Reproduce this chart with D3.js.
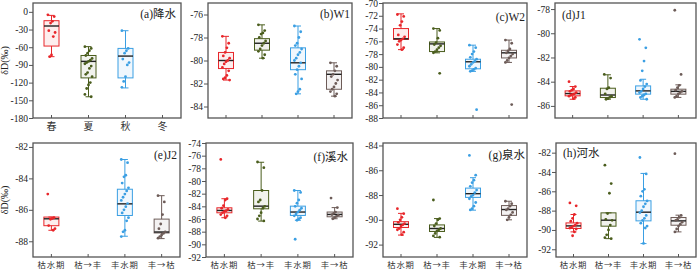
<!DOCTYPE html>
<html><head><meta charset="utf-8">
<script src="https://cdn.jsdelivr.net/npm/d3@7"></script>
<style>body{margin:0;background:#fff}svg{display:block}</style>
</head><body>
<svg id="c" width="700" height="272"></svg>
<script>
// ---------- data ----------
const seasons = ["春", "夏", "秋", "冬"];
const periods = ["枯水期", "枯→丰", "丰水期", "丰→枯"];
const colors = ["#e8262a", "#4a5d1d", "#3b9fe3", "#6d5c58"];
// box stats: [lower whisker, q1, median, q3, upper whisker] per group (null = no data)
const precipBox = [[-76, -58, -24, -15, -6], [-144, -112, -84, -74, -59], [-129, -112, -75, -62, -32], null];
const precipPts = [[-5, -8, -16, -19, -32, -35, -42, -73, -76],
  [-59, -62, -66, -70, -74, -79, -82, -84, -86, -88, -92, -96, -103, -106, -110, -120, -124, -130, -140, -144],
  [-32, -62, -66, -70, -80, -86, -90, -110, -118, -128], []];
const w1Box = [[-81.7, -80.7, -80.0, -79.3, -77.9], [-79.8, -79.1, -78.5, -78.1, -76.9], [-82.9, -80.8, -80.2, -78.9, -77.0], [-83.1, -82.5, -81.2, -80.9, -80.2]];
const w1Pts = [[-77.9, -78.5, -78.9, -79.3, -79.6, -79.8, -80.0, -80.1, -80.3, -80.6, -80.9, -81.3, -81.5, -81.6, -81.7],
  [-76.9, -77.4, -77.6, -77.7, -78.0, -78.3, -78.5, -78.7, -79.0, -79.2, -79.5, -79.8],
  [-77.0, -77.5, -78.0, -78.5, -78.7, -79.0, -79.3, -79.5, -79.8, -80.0, -80.2, -80.5, -80.8, -81.2, -81.6, -82.5, -82.7, -82.9],
  [-80.2, -80.5, -80.9, -81.2, -81.4, -81.7, -82.0, -82.3, -82.5, -82.7, -82.9, -83.1]];
const w2Box = [[-77.3, -75.7, -75.6, -74.0, -71.7], [-77.8, -77.6, -76.4, -76.1, -74.0], [-80.7, -80.3, -79.2, -78.8, -76.6], [-79.3, -78.6, -77.8, -77.4, -75.8]];
const w2Pts = [[-71.8, -72.1, -72.9, -73.5, -75.0, -75.3, -75.6, -75.8, -76.0, -76.5, -77.0, -77.3],
  [-74.0, -74.3, -75.5, -76.2, -76.5, -76.7, -77.0, -77.3, -77.6, -77.8, -81.0],
  [-76.6, -77.0, -77.6, -78.0, -78.5, -78.8, -79.1, -79.3, -79.6, -79.9, -80.2, -80.4, -80.6, -80.7, -86.7],
  [-75.8, -76.3, -77.2, -77.5, -77.8, -78.0, -78.3, -78.6, -79.0, -79.3, -85.9]];
const j1Box = [[-85.45, -85.17, -84.98, -84.76, -84.4], [-85.45, -85.31, -85.1, -84.54, -83.43], [-85.45, -85.03, -84.76, -84.35, -83.8], [-85.3, -85.03, -84.8, -84.62, -84.26]];
const j1Pts = [[-84.0, -84.4, -84.6, -84.7, -84.8, -84.9, -85.0, -85.05, -85.1, -85.2, -85.3, -85.4],
  [-83.4, -83.7, -84.5, -84.6, -85.0, -85.2, -85.3, -85.4, -85.45],
  [-80.5, -81.2, -82.3, -83.1, -83.9, -84.2, -84.4, -84.6, -84.8, -84.9, -85.0, -85.1, -85.2, -85.3, -85.45],
  [-78.1, -83.4, -84.3, -84.5, -84.7, -84.8, -84.9, -85.0, -85.2, -85.3]];
const j2Box = [[-87.3, -87.01, -86.57, -86.46, -86.46], null, [-87.68, -86.36, -85.62, -84.69, -82.8], [-87.83, -87.47, -87.41, -86.59, -85.1]];
const j2Pts = [[-85.0, -86.5, -86.55, -86.6, -87.0, -87.2, -87.3], [],
  [-82.8, -83.0, -83.8, -83.9, -84.3, -84.6, -84.8, -85.0, -85.2, -85.4, -85.6, -85.8, -86.0, -86.2, -86.5, -86.7, -87.3, -87.4, -87.7],
  [-85.1, -85.5, -86.3, -86.9, -87.2, -87.4, -87.5, -87.6, -87.7, -87.8]];
const streamBox = [[-85.8, -85.02, -84.65, -84.23, -82.8], [-86.33, -84.39, -83.97, -81.5, -77.04], [-86.2, -85.44, -84.9, -83.97, -81.5], [-85.96, -85.65, -85.28, -84.9, -84.2]];
const streamPts = [[-76.6, -82.8, -83.0, -83.9, -84.3, -84.5, -84.7, -84.8, -85.0, -85.3, -85.5, -85.8],
  [-77.0, -77.9, -81.5, -83.0, -83.3, -84.0, -84.3, -85.0, -85.5, -86.0, -86.3],
  [-81.5, -81.8, -83.0, -83.5, -84.0, -84.3, -84.6, -84.9, -85.2, -85.5, -85.8, -86.0, -86.2, -89.2],
  [-82.7, -84.2, -84.9, -85.1, -85.3, -85.4, -85.6, -85.8, -85.96]];
const springBox = [[-91.23, -90.62, -90.36, -90.15, -89.48], [-91.42, -90.94, -90.7, -90.41, -89.9], [-89.22, -88.19, -87.89, -87.44, -86.6], [-90.0, -89.64, -89.17, -88.85, -88.5]];
const springPts = [[-89.1, -89.5, -89.8, -90.0, -90.2, -90.3, -90.4, -90.5, -90.7, -90.8, -91.0, -91.2],
  [-88.4, -89.9, -90.0, -90.3, -90.5, -90.7, -90.8, -90.9, -91.1, -91.3, -91.4],
  [-84.8, -86.4, -86.8, -87.0, -87.3, -87.6, -87.8, -88.0, -88.1, -88.3, -88.6, -88.9, -89.1, -89.2],
  [-88.5, -88.7, -88.9, -89.1, -89.2, -89.4, -89.6, -89.8, -90.0]];
const riverBox = [[-90.2, -89.85, -89.58, -89.27, -88.4], [-90.9, -89.61, -88.99, -88.23, -88.23], [-91.41, -89.06, -88.16, -86.98, -84.15], [-90.2, -89.51, -89.06, -88.71, -88.47]];
const riverPts = [[-87.2, -87.5, -88.4, -88.8, -89.1, -89.3, -89.5, -89.6, -89.7, -89.8, -89.9, -90.2, -90.6],
  [-83.3, -85.2, -86.2, -88.3, -88.9, -89.0, -89.5, -90.0, -90.5, -90.8, -90.9],
  [-82.5, -84.2, -85.8, -86.0, -86.5, -87.0, -87.3, -87.6, -88.0, -88.2, -88.5, -88.8, -89.0, -89.3, -89.6, -89.8, -91.4],
  [-82.1, -88.5, -88.7, -88.9, -89.0, -89.2, -89.4, -89.6, -89.9, -90.2]];
const aTicks = [0, -30, -60, -90, -120, -150, -180];
const bTicks = [-76, -78, -80, -82, -84];
const cTicks = [-70, -72, -74, -76, -78, -80, -82, -84, -86, -88];
const dTicks = [-78, -80, -82, -84, -86];
const eTicks = [-82, -84, -86, -88];
const fTicks = [-74, -76, -78, -80, -82, -84, -86, -88, -90, -92];
const gTicks = [-84, -86, -88, -90, -92];
const hTicks = [-82, -84, -86, -88, -90, -92];

// ---------- layout ----------
const panels = [
  {title: "(a)降水", cats: seasons, box: precipBox, pts: precipPts, ticks: aTicks, dom: [-180, 15], x: [33, 181], y: [3, 118], tx: 176, ty: 18, anchor: "end", ylab: true, xlab: true},
  {title: "(b)W1", cats: periods, box: w1Box, pts: w1Pts, ticks: bTicks, dom: [-85, -75], x: [208, 352], y: [3, 118], tx: 350, ty: 18, anchor: "end"},
  {title: "(c)W2", cats: periods, box: w2Box, pts: w2Pts, ticks: cTicks, dom: [-88, -70], x: [383, 527], y: [3, 118], tx: 525, ty: 21, anchor: "end"},
  {title: "(d)J1", cats: periods, box: j1Box, pts: j1Pts, ticks: dTicks, dom: [-87, -77.5], x: [555, 696], y: [3, 118], tx: 562, ty: 19, anchor: "start"},
  {title: "(e)J2", cats: periods, box: j2Box, pts: j2Pts, ticks: eTicks, dom: [-89, -81.75], x: [33, 180], y: [143, 257], tx: 177, ty: 159, anchor: "end", ylab: true, xlab: true},
  {title: "(f)溪水", cats: periods, box: streamBox, pts: streamPts, ticks: fTicks, dom: [-92, -74], x: [206, 353], y: [143, 257], tx: 348, ty: 161, anchor: "end", xlab: true},
  {title: "(g)泉水", cats: periods, box: springBox, pts: springPts, ticks: gTicks, dom: [-93, -83.8], x: [383, 527], y: [143, 257], tx: 525, ty: 159, anchor: "end", xlab: true},
  {title: "(h)河水", cats: periods, box: riverBox, pts: riverPts, ticks: hTicks, dom: [-92.8, -81], x: [556, 696], y: [143, 257], tx: 563, ty: 157, anchor: "start", xlab: true}
];

const svg = d3.select("#c");
const FONT = "'Liberation Serif','Times New Roman','Noto Sans CJK SC',serif";
const CJK = "'Noto Sans CJK SC','Liberation Serif',serif";
const frameCol = "#555";

panels.forEach(p => {
  const g = svg.append("g");
  const x = d3.scaleBand().domain(p.cats).range(p.x);
  const y = d3.scaleLinear().domain(p.dom).range([p.y[1], p.y[0]]);
  const bw = 15;

  // y axis
  const ya = g.append("g").attr("transform", `translate(${p.x[0]},0)`)
    .call(d3.axisLeft(y).tickValues(p.ticks).tickSize(4).tickSizeOuter(0).tickFormat(d => d));
  ya.select(".domain").remove();
  ya.selectAll("line").attr("stroke", frameCol);
  ya.selectAll("text").attr("font-family", FONT).attr("font-size", 9.5).attr("fill", "#222").attr("x", -5);

  // x axis ticks (inward)
  const xa = g.append("g").attr("transform", `translate(0,${p.y[1]})`)
    .call(d3.axisBottom(x).tickSize(-3).tickSizeOuter(0));
  xa.select(".domain").remove();
  xa.selectAll("line").attr("stroke", frameCol);
  if (p.xlab) {
    xa.selectAll("text").attr("font-family", CJK).attr("font-size", p.cats === seasons ? 10 : 8.4).attr("fill", "#333")
      .attr("letter-spacing", p.cats === seasons ? 0 : 0.8).attr("y", 5);
  } else {
    xa.selectAll("text").remove();
  }

  // frame
  g.append("rect").attr("x", p.x[0]).attr("y", p.y[0])
    .attr("width", p.x[1] - p.x[0]).attr("height", p.y[1] - p.y[0])
    .attr("fill", "none").attr("stroke", frameCol).attr("stroke-width", 1.3);

  // boxes
  p.cats.forEach((c, i) => {
    const s = p.box[i];
    const cx = x(c) + x.bandwidth() / 2;
    const col = colors[i];
    if (s) {
      const [lo, q1, med, q3, hi] = s;
      g.append("line").attr("x1", cx).attr("x2", cx).attr("y1", y(hi)).attr("y2", y(q3)).attr("stroke", col).attr("stroke-width", 1);
      g.append("line").attr("x1", cx).attr("x2", cx).attr("y1", y(q1)).attr("y2", y(lo)).attr("stroke", col).attr("stroke-width", 1);
      [lo, hi].forEach(v => g.append("line").attr("x1", cx - 3).attr("x2", cx + 3).attr("y1", y(v)).attr("y2", y(v)).attr("stroke", col).attr("stroke-width", 1));
      g.append("rect").attr("x", cx - bw / 2).attr("y", y(q3)).attr("width", bw).attr("height", Math.max(1, y(q1) - y(q3)))
        .attr("fill", col).attr("fill-opacity", 0.08).attr("stroke", col).attr("stroke-width", 1);
      g.append("line").attr("x1", cx - bw / 2).attr("x2", cx + bw / 2).attr("y1", y(med)).attr("y2", y(med))
        .attr("stroke", "#222").attr("stroke-width", 1.4);
    }
    // points (deterministic jitter)
    g.selectAll(null).data(p.pts[i]).enter().append("circle")
      .attr("cx", (d, k) => cx + (((k * 7) % 9) - 4) * 0.9)
      .attr("cy", d => y(d)).attr("r", 1.4).attr("fill", col);
  });

  // title
  g.append("text").attr("x", p.tx).attr("y", p.ty).attr("text-anchor", p.anchor)
    .attr("font-family", FONT).attr("font-size", 11.5).attr("fill", "#222").text(p.title);

  if (p.ylab) {
    const cy = (p.y[0] + p.y[1]) / 2;
    g.append("text").attr("transform", `translate(8,${cy}) rotate(-90)`).attr("text-anchor", "middle")
      .attr("font-family", FONT).attr("font-size", 10).attr("fill", "#222").text("δD(‰)");
  }
});
</script>
</body></html>
